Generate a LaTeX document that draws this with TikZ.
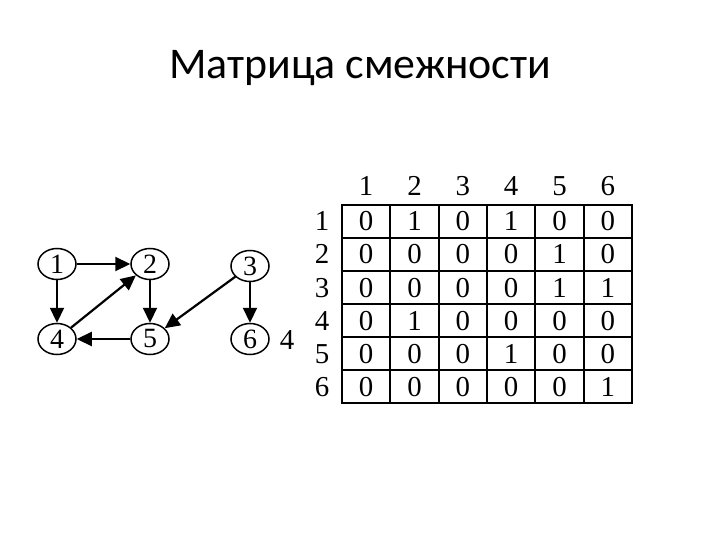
\documentclass[tikz,border=0pt]{standalone}
\usepackage{fontspec}
\setmainfont{Liberation Serif}
\newfontfamily\titlefont{Carlito}
\usepackage{tikz}
\usetikzlibrary{arrows.meta, positioning, calc, shapes.geometric}

\begin{document}
\begin{tikzpicture}[x=1bp, y=-1bp,
		vert/.style={draw, ellipse, line width=1.5bp, minimum width=38bp, minimum height=31bp, inner sep=0pt, font=\fontsize{28}{30}\selectfont},
		arc/.style={line width=2.2bp, -{Triangle[length=15bp, width=14bp]}},
		cell/.style={anchor=base, font=\fontsize{29}{30}\selectfont}]
	\useasboundingbox (0,0) rectangle (720,540);
	\node[anchor=base, font=\titlefont\fontsize{44}{50}\selectfont] (title) at (360,79) {Матрица смежности};
	% graph
	\node[vert] (v1) at (57,264) {1};
	\node[vert] (v2) at (150,264) {2};
	\node[vert] (v3) at (250,266) {3};
	\node[vert] (v4) at (57,339) {4};
	\node[vert] (v5) at (150,339) {5};
	\node[vert] (v6) at (250,339) {6};
	\node[cell] (stray) at (287,349) {4};
	\draw[arc] (v1) -- (v2);
	\draw[arc] (v1) -- (v4);
	\draw[arc] (v4) -- (v2);
	\draw[arc] (v2) -- (v5);
	\draw[arc] (v5) -- (v4);
	\draw[arc] (v3) -- (v5);
	\draw[arc] (v3) -- (v6);
	% matrix
	\foreach \c in {1,...,6}
		\node[cell] (h\c) at ({342+48.33*(\c-0.5)},196) {\c};
	\foreach \r/\vals in {1/{0,1,0,1,0,0}, 2/{0,0,0,0,1,0}, 3/{0,0,0,0,1,1},
			4/{0,1,0,0,0,0}, 5/{0,0,0,1,0,0}, 6/{0,0,0,0,0,1}} {
		\node[cell] (r\r) at (322,{205+33*(\r-0.5)+9.5}) {\r};
		\foreach \v [count=\c] in \vals
			\node[cell] (m\r\c) at ({342+48.33*(\c-0.5)},{205+33*(\r-0.5)+9.5}) {\v};
	}
	\draw[line width=2.2bp] (342,205) rectangle (632,403);
	\foreach \i in {1,...,5} {
		\draw[line width=2.2bp] ({342+48.33*\i},205) -- ({342+48.33*\i},403);
		\draw[line width=2.2bp] (342,{205+33*\i}) -- (632,{205+33*\i});
	}
\end{tikzpicture}
\end{document}
